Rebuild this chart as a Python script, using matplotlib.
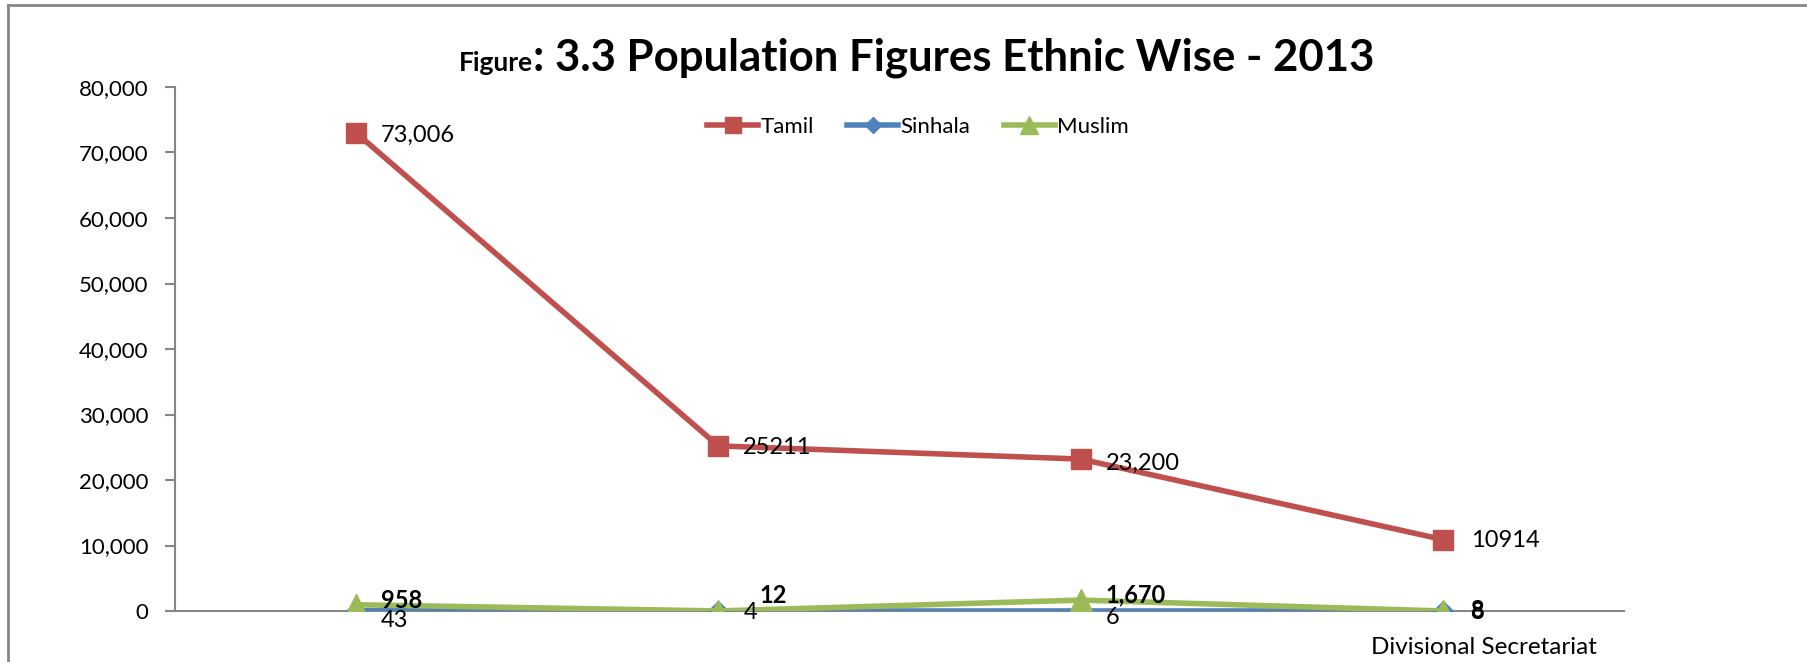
import matplotlib
matplotlib.use("Agg")
import matplotlib.pyplot as plt
from matplotlib.lines import Line2D
from matplotlib.ticker import FuncFormatter

plt.rcParams['font.family'] = ['Lato', 'DejaVu Sans']

# data
divisions = ["DS 1", "DS 2", "DS 3", "DS 4"]
tamil = [73006, 25211, 23200, 10914]
sinhala = [43, 4, 6, 8]
muslim = [958, 12, 1670, 8]
tamil_labels = ["73,006", "25211", "23,200", "10914"]
sinhala_labels = ["43", "4", "6", "8"]
muslim_labels = ["958", "12", "1,670", "8"]

red = "#C0504D"
blue = "#4F81BD"
green = "#9BBB59"
grey = "#868686"

fig = plt.figure(figsize=(18.07, 6.62), dpi=100)
ax = fig.add_axes([0.0968, 0.077, 0.8019, 0.7916])

x = list(range(len(divisions)))
ax.plot(x, tamil, color=red, lw=4, marker="s", ms=14, label="Tamil", zorder=3)
ax.plot(x, sinhala, color=blue, lw=4, marker="D", ms=10, label="Sinhala", zorder=4)
ax.plot(x, muslim, color=green, lw=4, marker="^", ms=16, label="Muslim", zorder=5)

# data labels
tam_off = [(18, -2), (18, -1), (18, -3), (20, -1)]
sin_off = [(18, -7), (18, -1), (18, -5), (20, -1)]
mus_off = [(18, 3), (30, 11), (18, 4), (20, 0)]
for i in x:
    ax.annotate(tamil_labels[i], (i, tamil[i]), xytext=tam_off[i], textcoords="offset points",
                ha="left", va="center", fontsize=17, zorder=10)
    ax.annotate(sinhala_labels[i], (i, sinhala[i]), xytext=sin_off[i], textcoords="offset points",
                ha="left", va="center", fontsize=17, zorder=10)
    ax.annotate(muslim_labels[i], (i, muslim[i]), xytext=mus_off[i], textcoords="offset points",
                ha="left", va="center", fontsize=17, fontweight="bold", zorder=11)

ax.set_xlim(-0.5, 3.5)
ax.set_ylim(0, 80000)
ax.set_yticks(range(0, 80001, 10000))
ax.yaxis.set_major_formatter(FuncFormatter(lambda v, p: f"{int(v):,}"))
ax.set_xticks([])
for s in ["top", "right"]:
    ax.spines[s].set_visible(False)
for s in ["left", "bottom"]:
    ax.spines[s].set_color(grey)
    ax.spines[s].set_linewidth(1.5)
ax.tick_params(axis="y", length=7, width=1.5, color=grey, labelsize=16, pad=12)

# axis title sits under the last category
fig.text(0.821, 0.022, "Divisional Secretariat", ha="center", va="center", fontsize=17.5)

# title
fig.text(0.295, 0.893, "Figure", ha="right", va="baseline", fontsize=19, fontweight="bold")
fig.text(0.295, 0.893, ": 3.3 Population Figures Ethnic Wise - 2013", ha="left", va="baseline",
         fontsize=31.5, fontweight="bold")

ax.legend(loc="center", bbox_to_anchor=(0.508, 0.808), bbox_transform=fig.transFigure,
          ncol=3, frameon=False, fontsize=16, handlelength=2.3, columnspacing=1.5,
          handletextpad=0.1, markerscale=0.8)

# outer chart border (only top and left are inside the picture)
fig.add_artist(Line2D([8 / 1807, 8 / 1807], [0, 1 - 5 / 662], color=grey, lw=2))
fig.add_artist(Line2D([8 / 1807, 1], [1 - 5 / 662, 1 - 5 / 662], color=grey, lw=2))

fig.savefig("out.png", dpi=100)
